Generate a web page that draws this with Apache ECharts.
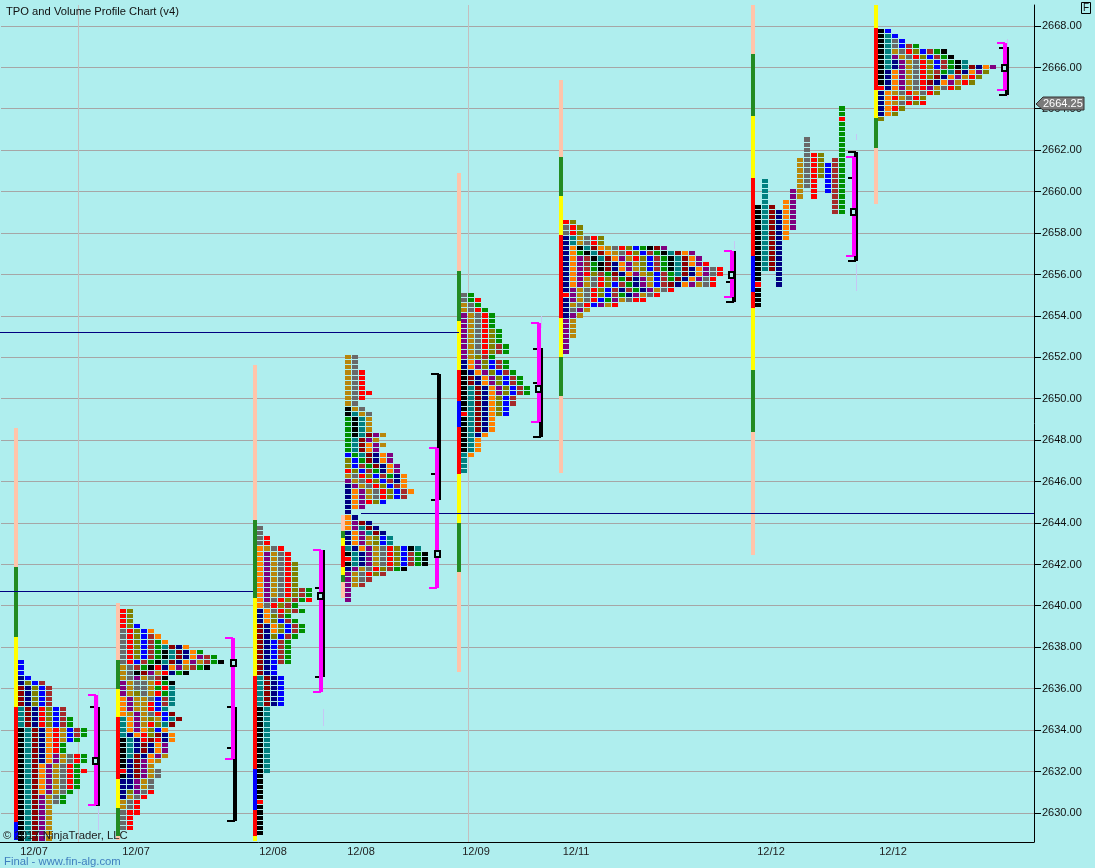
<!DOCTYPE html>
<html>
<head>
<meta charset="utf-8">
<style>html,body{margin:0;padding:0;background:#AFEEEE}#c{width:1095px;height:868px}</style>
<script src="https://cdn.jsdelivr.net/npm/echarts@6/dist/echarts.min.js"></script>
</head>
<body>
<div id="c"></div>
<script>
var yTicks = [2630,2632,2634,2636,2638,2640,2642,2644,2646,2648,2650,2652,2654,2656,2658,2660,2662,2664,2666,2668];
var xTickPos = [34,136,273,361,476,576,771,893];
var xTickLabels = ['12/07','12/07','12/08','12/08','12/09','12/11','12/12','12/12'];
var timeGrid = [78.5,468.5];
var lastPrice = 2664.25;
var tickSize = 0.25;

var profileStart = [21,123,260,348,464,566,758,881];
var profileTop = [2637.25,2639.75,2643.75,2652,2655,2658.5,2664,2667.75];

var rows1 = ['B','B','B','NB','NLBS','DNLBS','DNLBS','DNLBS','DNLBS','TDNRLBS','TDNRLBS','TDNRLBSE','TDNRLBSE','KTDNORGBSE','KTDNORGBSE','KTDNORGBE','KTDNORE','KTDNORE','KTDNOPGARE','KTDNOPGARE','KTDOPGARE','KTDOPGARER','KTDOPGARE','KTDOPGARE','KTDOPGARE','KTDOPGAE','KTDPGAE','KTDPGAE','KTDPG','KTDPG','KTDPG','KTDPG','KTDPG','KTDPG','KTDPG'];
var rows2 = ['RL','RL','RL','RLB','ARLBO','ARLBSO','ARLBSEO','ARLBSETDNO','ARLBSEKTDNOE','ARLBSEKTDNOPSE','ARBSEKTDNOPGSEK','GASEKRNOPGSEK','GAKDPGRNEK','GAPGASK','PGAAGREK','PGAAGERT','PGLAGRET','OPGGABST','OPGGRBST','OPGGRBT','OGPGARBD','TOPGLGBTD','TOPGRLTD','TOPOLBO','TNORLDNO','KTNRDRNO','KTNDNOP','KTNDNOP','KTDNOPG','KNDPOG','KNDPG','RNDPGA','KNDPGA','NNPGA','NNPGA','NLPAR','NGAR','GAR','GAR','ARR','AR','AR','AR'];
var rows3 = ['A','A','AR','AR','OGAR','OPGAR','OPGAR','OPGARL','OPGARL','OPGARL','OPGARL','OPGARL','OPGARLSE','OPGARLSE','OPARLSER','OARLSE','NOARLSE','NOLSE','NOLBSE','DNOLBSE','DNOLBSE','DNLBSE','DNBSE','DNBSE','DNBSE','DNBSE','DNBSE','DNB','DNB','TDNB','TDNB','TDNB','TDNB','TDNB','TDNB','KT','KT','KT','KT','KT','KT','KT','KT','KT','KT','KT','KT','KT','K','K','K','K','K','R','K','K','K','K','K','K'];
var rows4 = ['GA','GA','GA','GAR','GAR','GAR','GAR','GARR','GAR','GA','KGA','KTGA','EKTG','EKTG','EKTG','EKTDPG','ETDPG','ETDOPG','ETDOP','BETDNOP','LBEDNOP','LBSEDNOP','RLBSENOP','GARLBSENO','PGARLBSNO','NPGARLBSO','NOPGARLBSO','NOPGARLBS','NOPRLB','NOP','N','ON','OPDN','OPTDN','NOPTDN','NOPGLBT','NOPGLBT','TNOPGARLBKT','KTNPGARLBSEK','RTNPGARLBSEK','KTNPGARLBSEK','NPGARLSEK','PGARLS','PGAS','PGS','P','P','P'];
var rows5 = ['AE','AER','GAE','GARE','PGARE','PGARE','PGARE','PGARLE','PGARLE','PGARLE','PGARLSE','PGARLSE','PGLSE','NOPLBSE','NOPLBSE','KNOPLBSE','KDNOPLBSE','KDNOPLBSE','KTDNOPLBSE','KTDNOPLBSE','KTDNOLBS','KTDNOLBS','KTDNOLB','RTDNOLB','KTDNO','KTDNO','KTDNO','KTNO','KTO','KTO','KTO','TO','T','T','T'];
var rows6 = ['RL','ARL','ARL','NTGARL','NTGARL','NOKTDOGARLBEKDP','NOEKTDOGARLBSEKTDOP','NOPSKTDOPGRLBSEKTDOP','NOPSEKDNOPGLBSEKTDOPR','NOPSEKDNOPGLBSEKTDNOPAR','NOPRLSEDNOPGLBSETDNOPAR','NOPGARLSEDNPGBSEDNOPAR','NOPGARLBSENPGBSDNOPGAR','NPGARLBSNSENPGAR','RPGARLBSENPGAR','NPGARBEPGARR','NGARBPGR','NAPG','NPG','PG','PG','PG','PG','P','P','P'];
var rows7 = ['............E','............E','............R','............E','............E','............E','.......A....E','.......A....E','.......A....E','.......ARL..E','......GARL.SE','......GARLBSE','......GARLBSE','......GARLBSE','.T....GAR.BSE','.T....GAR.BSE','.T...PG.R.BSE','.T...PG.R..SE','.T..OP.....SE','KTD.OP.....SE','KTDNOP.....SE','KTDNOP','KTDNOP','KTDNOP','KTDNO','KTDNO','KTDN','KTDN','KTDN','KTDN','KTDN','KTDN','K..N','K..N','R..N','K','K','K','K'];
var rows8 = ['KB','KTB','KTAB','KTABSE','KTGARLBSEK','KTPGARLBSEK','KTNPGARLBSEKT','KTNPGARLBSEKTDNOP','KNOPGARLSETDNOPL','KNOPGARLDNOPGRL','KNOPGARDNOPGRL','RNOPGARPGARL','NOGARGARL','NORGARL','NOGARLR','NORL','NOL','L'];

var barX = [16,118,255,343,459,561,753,876];
var barPrices1 = [2648.59,2641.88,2638.5,2635.12,2629.57,2628.7];
var barColors1 = 'WFYRB';
var barPrices2 = [2640.14,2637.39,2635.99,2634.64,2631.64,2630.24,2628.9,2628.7];
var barColors2 = 'WFYRYFW';
var barPrices3 = [2651.64,2644.15,2640.39,2636.62,2632.13,2630.15,2628.9,2628.66];
var barColors3 = 'WFYRBRY';
var barPrices4 = [2644.39,2643.62,2643.28,2642.9,2641.88,2641.49,2641.16,2640.39];
var barColors4 = 'WFYRYFW';
var barPrices5 = [2660.91,2656.17,2653.76,2651.39,2649.9,2648.64,2646.37,2644.01,2641.64,2636.81];
var barColors5 = 'WFYRBRYFW';
var barPrices6 = [2665.4,2661.68,2659.8,2657.91,2653.9,2652.02,2650.14,2646.42];
var barColors6 = 'WFYRYFW';
var barPrices7 = [2669.02,2666.65,2663.66,2660.66,2656.9,2655.16,2654.39,2651.39,2648.4,2642.46];
var barColors7 = 'WFYRBRYFW';
var barPrices8 = [2669.02,2667.91,2664.91,2663.56,2662.11,2659.41];
var barColors8 = 'YRYFW';

var valueAreaX = [96,233,321,437,539,732,854,1005];
var valueAreaHi = [2635.7,2638.45,2642.7,2647.63,2653.68,2657.14,2661.68,2667.18];
var valueAreaLo = [2630.39,2632.61,2635.85,2640.87,2648.88,2654.92,2656.9,2664.91];
var rangeHi = [2635.12,2635.12,2642.7,2651.2,2652.46,2657.14,2661.92,2666.99];
var rangeLo = [2630.34,2629.62,2636.57,2645.12,2648.16,2654.68,2656.66,2664.67];
var rangeTicks = [[2635.12],[2635.12,2633.14,2629.62],[2640.87,2636.57],[2651.2,2646.37,2645.12],[2652.41,2650.75,2648.16],[2655.64,2654.68],[2661.92,2660.66,2656.66],[2666.95,2664.67]];
var pocPrice = [2632.5,2637.25,2640.5,2642.5,2650.5,2656,2659,2666];
var pocX = [95,233,320.5,437,538,731.5,853.5,1004];

var nakedStart = [0,361,0];
var nakedEnd = [459,1034,253];
var nakedPrice = [2653.25,2644.5,2640.75];

var wickX = [98.5,98.5,323.5,541.5,541.5,734,734,856,856,1007];
var wickHi = [2635.9,2632.9,2635,2654,2649,2657.6,2655,2662.8,2656.5,2667.4];
var wickLo = [2633.2,2629.2,2634.2,2653.4,2648.2,2657.2,2654.6,2662.5,2655.2,2664.5];

var palette = {K:'#000000',T:'#008080',D:'#8B0000',N:'#000080',O:'#FF8000',P:'#800080',G:'#B8860B',A:'#696969',R:'#FF0000',L:'#808000',S:'#A52A2A',E:'#009000',B:'#0000FF',Y:'#FFFF00',F:'#228B22',W:'#FFC4AA'};
var codes = Object.keys(palette);
var BG = '#AFEEEE';

var allRows = [rows1,rows2,rows3,rows4,rows5,rows6,rows7,rows8];
var allBarP = [barPrices1,barPrices2,barPrices3,barPrices4,barPrices5,barPrices6,barPrices7,barPrices8];
var allBarC = [barColors1,barColors2,barColors3,barColors4,barColors5,barColors6,barColors7,barColors8];

var cells = [], bars = [], ticks = [];
allRows.forEach(function (rows, pi) {
  rows.forEach(function (row, r) {
    row.split('').forEach(function (ch, c) {
      if (ch === '.') return;
      cells.push([profileStart[pi] + c * 7, profileTop[pi] - r * tickSize, codes.indexOf(ch)]);
    });
  });
  allBarC[pi].split('').forEach(function (ch, i) {
    bars.push([barX[pi], allBarP[pi][i], allBarP[pi][i + 1], codes.indexOf(ch)]);
  });
  rangeTicks[pi].forEach(function (p) { ticks.push([valueAreaX[pi], p]); });
});
var vaData = valueAreaX.map(function (x, i) { return [x, valueAreaHi[i], valueAreaLo[i]]; });
var rangeData = valueAreaX.map(function (x, i) { return [x, rangeHi[i], rangeLo[i]]; });
var pocData = pocX.map(function (x, i) { return [x, pocPrice[i]]; });
var nakedData = nakedStart.map(function (x, i) { return [x, nakedEnd[i], nakedPrice[i]]; });
var wickData = wickX.map(function (x, i) { return [x, wickHi[i], wickLo[i]]; });

function custom(name, data, z, fn) {
  return {type: 'custom', name: name, data: data, z: z, silent: true, animation: false, progressive: 0, clip: false, renderItem: fn};
}
function rect(x, y, w, h, fill) {
  return {type: 'rect', shape: {x: x, y: y, width: w, height: h}, style: {fill: fill}};
}

var chart = echarts.init(document.getElementById('c'), null, {renderer: 'canvas'});
chart.setOption({
  animation: false,
  backgroundColor: BG,
  textStyle: {fontFamily: '"Liberation Sans", Arial, sans-serif'},
  grid: {left: 0, right: 61, top: 5, bottom: 26, containLabel: false},
  xAxis: {
    type: 'value', min: 0, max: 1034, splitLine: {show: false},
    axisLine: {show: true, onZero: false, lineStyle: {color: '#000', width: 1}},
    axisTick: {show: false},
    axisLabel: {show: true, customValues: xTickPos, margin: 4, fontSize: 11, color: '#222',
      formatter: function (v) { var i = xTickPos.indexOf(v); return i >= 0 ? xTickLabels[i] : ''; }}
  },
  yAxis: {
    type: 'value', position: 'right', min: 2628.602, max: 2669.018, splitLine: {show: false},
    axisLine: {show: true, onZero: false, lineStyle: {color: '#000', width: 1}},
    axisTick: {show: false},
    axisLabel: {show: true, customValues: yTicks, margin: 8, fontSize: 11, color: '#111',
      formatter: function (v) { return v.toFixed(2); }}
  },
  series: [
    custom('priceGrid', yTicks.map(function (p) { return [p]; }), 1, function (params, api) {
      var c = api.coord([0, api.value(0)]);
      var y = Math.floor(c[1]);
      return {type: 'group', children: [rect(1, y, 1033, 1, '#A6A6A6'), rect(1034, y, 7, 1, '#000')]};
    }),
    custom('timeGrid', timeGrid.map(function (x) { return [x]; }), 1, function (params, api) {
      var a = api.coord([api.value(0), 2669.018]), b = api.coord([api.value(0), 2628.602]);
      return rect(Math.floor(a[0]), a[1], 1, b[1] - a[1], '#C4BEBE');
    }),
    custom('wicks', wickData, 2, function (params, api) {
      var a = api.coord([api.value(0), api.value(1)]), b = api.coord([api.value(0), api.value(2)]);
      return rect(Math.floor(a[0]), Math.round(a[1]), 1, Math.round(b[1] - a[1]), '#C6C6F4');
    }),
    custom('bars', bars, 3, function (params, api) {
      var a = api.coord([api.value(0), api.value(1)]), b = api.coord([api.value(0), api.value(2)]);
      var y0 = Math.round(a[1]), y1 = Math.round(b[1]);
      return rect(Math.round(a[0] - 2), y0, 4, y1 - y0, palette[codes[api.value(3)]]);
    }),
    custom('cells', cells, 4, function (params, api) {
      var c = api.coord([api.value(0), api.value(1)]);
      var h = api.size([0, tickSize])[1];
      var y0 = Math.round(c[1] - h / 2), y1 = Math.round(c[1] + h / 2);
      return rect(Math.round(c[0] - 3), y0, 6, y1 - y0 - 1, palette[codes[api.value(2)]]);
    }),
    custom('nakedPoc', nakedData, 5, function (params, api) {
      var a = api.coord([api.value(0), api.value(2)]), b = api.coord([api.value(1), api.value(2)]);
      return rect(a[0], Math.ceil(a[1]), b[0] - a[0], 1, '#000080');
    }),
    custom('range', rangeData, 6, function (params, api) {
      var a = api.coord([api.value(0), api.value(1)]), b = api.coord([api.value(0), api.value(2)]);
      return rect(Math.round(a[0]), Math.round(a[1]), 4, Math.round(b[1] - a[1]), '#000');
    }),
    custom('rangeTicks', ticks, 6, function (params, api) {
      var c = api.coord([api.value(0), api.value(1)]);
      return rect(Math.round(c[0] - 6), Math.round(c[1] - 1), 8, 2, '#000');
    }),
    custom('valueArea', vaData, 7, function (params, api) {
      var a = api.coord([api.value(0), api.value(1)]), b = api.coord([api.value(0), api.value(2)]);
      var x = Math.round(a[0] - 2), y0 = Math.round(a[1]), y1 = Math.round(b[1]);
      return {type: 'group', children: [
        rect(x, y0, 4, y1 - y0, '#FF00FF'),
        rect(x - 6, y0 - 1, 8, 2, '#FF00FF'),
        rect(x - 6, y1 - 1, 8, 2, '#FF00FF')
      ]};
    }),
    custom('poc', pocData, 8, function (params, api) {
      var c = api.coord([api.value(0), api.value(1)]);
      var x = Math.round(c[0] - 3.5), y = Math.round(c[1] - 4);
      return {type: 'group', children: [rect(x, y, 7, 8, '#000'), rect(x + 2, y + 2, 3, 4, BG)]};
    }),
    custom('lastPrice', [[1034, lastPrice]], 20, function (params, api) {
      var c = api.coord([api.value(0), api.value(1)]);
      var y = Math.round(c[1]);
      return {type: 'group', children: [
        {type: 'polygon', shape: {points: [[1036, y], [1043, y - 7], [1084, y - 7], [1084, y + 6], [1043, y + 6]]},
          style: {fill: '#7A7A7A', stroke: '#333', lineWidth: 1}},
        {type: 'text', style: {x: 1043, y: y, text: lastPrice.toFixed(2), fill: '#fff', font: '11px "Liberation Sans"', verticalAlign: 'middle'}}
      ]};
    })
  ],
  graphic: [
    {type: 'text', z: 30, x: 6, y: 6, style: {text: 'TPO and Volume Profile Chart (v4)', fill: '#111', font: '11.2px "Liberation Sans"'}},
    {type: 'text', z: 30, x: 3, y: 830, style: {text: '\u00A9 2017 NinjaTrader, LLC', fill: '#222', font: '11.3px "Liberation Sans"'}},
    {type: 'text', z: 30, x: 4, y: 856, style: {text: 'Final - www.fin-alg.com', fill: '#3F7FBF', font: '11.3px "Liberation Sans"'}},
    {type: 'rect', z: 30, shape: {x: 1081.5, y: 2.5, width: 9, height: 11}, style: {fill: 'none', stroke: '#000', lineWidth: 1}},
    {type: 'text', z: 31, x: 1083, y: 3, style: {text: 'F', fill: '#111', font: '10px "Liberation Sans"'}}
  ]
});
</script>
</body>
</html>
